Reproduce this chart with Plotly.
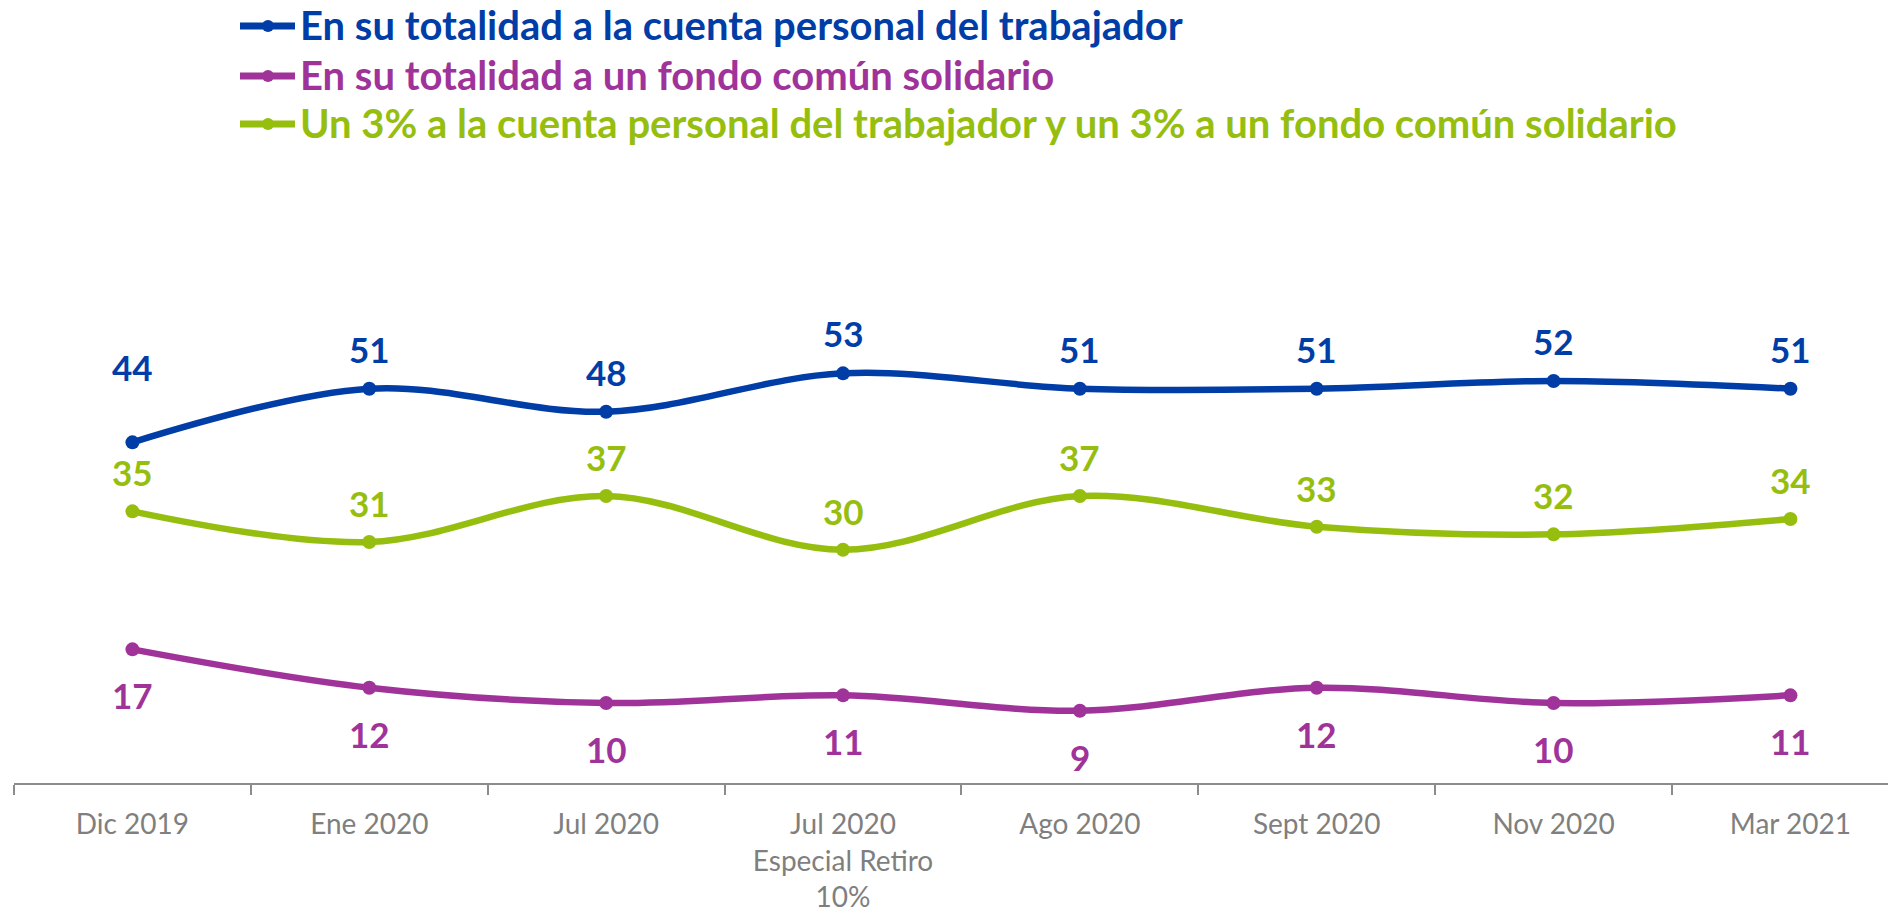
import plotly.graph_objects as go

categories = ["Dic 2019", "Ene 2020", "Jul 2020", "Jul 2020<br>Especial Retiro<br>10%",
              "Ago 2020", "Sept 2020", "Nov 2020", "Mar 2021"]
series_names = [
    "En su totalidad a la cuenta personal del trabajador",
    "En su totalidad a un fondo común solidario",
    "Un 3% a la cuenta personal del trabajador y un 3% a un fondo común solidario",
]
cuenta_personal = [44, 51, 48, 53, 51, 51, 52, 51]
fondo_comun = [17, 12, 10, 11, 9, 12, 10, 11]
mixto = [35, 31, 37, 30, 37, 33, 32, 34]

colors = ["#003DA6", "#A0339A", "#96BE0F"]
values = [cuenta_personal, fondo_comun, mixto]
label_shift = [40, -46, 39]

FONT = "Lato, 'Open Sans', sans-serif"

# page geometry
FIG_W, FIG_H = 1888, 915
PLOT_L, PLOT_R, PLOT_T, PLOT_B = 14, 1888, 243, 783
CAT_PX = 236.86
PW, PH = PLOT_R - PLOT_L, PLOT_B - PLOT_T


def px_x(x):
    return (x - PLOT_L) / PW


def px_y(y):
    return (PLOT_B - y) / PH


fig = go.Figure()
for i, (name, vals, col) in enumerate(zip(series_names, values, colors)):
    fig.add_trace(go.Scatter(
        x=categories, y=vals, mode="lines+markers", name=name,
        line=dict(color=col, width=6.5, shape="spline", smoothing=1),
        marker=dict(color=col, size=14),
        hoverinfo="skip", showlegend=False,
    ))

annotations = []
for i, (vals, col) in enumerate(zip(values, colors)):
    for j, (c, v) in enumerate(zip(categories, vals)):
        shift = label_shift[i]
        if i == 0 and j == 0:
            shift = 75
        annotations.append(dict(
            x=c, y=v, xref="x", yref="y", text=f"<b>{v}</b>", showarrow=False,
            yshift=shift, font=dict(family=FONT, size=35, color=col),
        ))

# legend drawn at the top
shapes = []
legend_rows = [26, 76, 124]
for name, col, ry in zip(series_names, colors, legend_rows):
    shapes.append(dict(type="line", xref="paper", yref="paper",
                       x0=px_x(240), x1=px_x(295), y0=px_y(ry), y1=px_y(ry),
                       line=dict(color=col, width=7)))
    shapes.append(dict(type="circle", xref="paper", yref="paper",
                       x0=px_x(262), x1=px_x(274), y0=px_y(ry - 6), y1=px_y(ry + 6),
                       fillcolor=col, line=dict(color=col, width=0)))
    annotations.append(dict(
        x=px_x(298), y=px_y(ry - 1), xref="paper", yref="paper", xanchor="left", yanchor="middle",
        text=f"<b>{name}</b>", showarrow=False,
        font=dict(family=FONT, size=40, color=col),
    ))

fig.update_layout(
    width=FIG_W, height=FIG_H,
    margin=dict(l=PLOT_L, r=FIG_W - PLOT_R, t=PLOT_T, b=FIG_H - PLOT_B, autoexpand=False),
    plot_bgcolor="white",
    paper_bgcolor="white",
    showlegend=False,
    annotations=annotations,
    shapes=shapes,
    xaxis=dict(
        type="category",
        range=[-0.5, -0.5 + PW / CAT_PX],
        automargin=False,
        showline=True, linecolor="#8C8C8C", linewidth=1.5,
        ticks="outside", tickson="boundaries", ticklen=10, tickcolor="#8C8C8C", tickwidth=1.5,
        showgrid=False, zeroline=False,
        tickfont=dict(family=FONT, size=28, color="#7F7F7F"),
        ticklabelstandoff=16,
        fixedrange=True,
    ),
    yaxis=dict(
        range=[-0.43, 70],
        visible=False, showgrid=False, zeroline=False,
        automargin=False,
        fixedrange=True,
    ),
)

fig.write_html(
    "out.html",
    config={"displayModeBar": False},
    post_script="document.body.style.margin='0';document.body.style.overflow='hidden';",
)
